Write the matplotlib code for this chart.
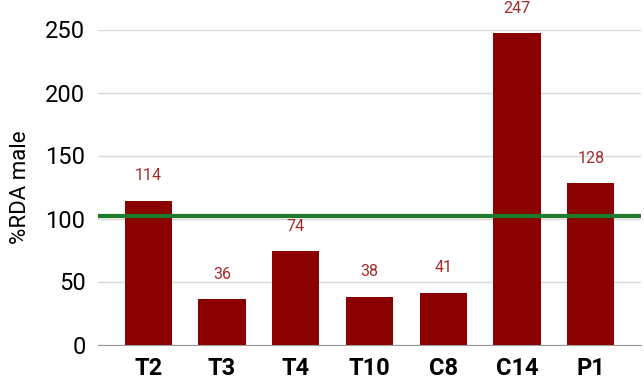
import matplotlib
matplotlib.use('Agg')
import matplotlib.pyplot as plt

plt.rcParams['font.family'] = ['Roboto', 'DejaVu Sans']

labels = ['T2', 'T3', 'T4', 'T10', 'C8', 'C14', 'P1']
values = [114, 36, 74, 38, 41, 247, 128]
rda_line = 102

fig = plt.figure(figsize=(6.44, 3.82), dpi=100)
ax = fig.add_axes([98 / 644, 1 - 344.5 / 382, 543 / 644, 315 / 382])

x = range(len(labels))
bars = ax.bar(x, values, width=0.64, color='#8b0000', zorder=2)
for xi, v in zip(x, values):
    ax.annotate(str(v), (xi, v), xytext=(0, 18), textcoords='offset points',
                ha='center', va='center', color='#a52a2a', fontsize=11.5)

ax.axhline(rda_line, color='#1e7b2e', linewidth=3, zorder=3)

ax.set_ylim(0, 250)
ax.set_xlim(-0.68, 6.68)
ax.set_yticks([0, 50, 100, 150, 200, 250])
ax.set_xticks(list(x))
ax.set_xticklabels(labels, fontweight='bold')
ax.tick_params(axis='both', length=0, labelsize=17)
ax.tick_params(axis='x', pad=9)
ax.tick_params(axis='y', pad=9)
ax.yaxis.grid(True, color='#d9d9d9', linewidth=1, zorder=0)
ax.set_axisbelow(True)
for s in ['top', 'right', 'left']:
    ax.spines[s].set_visible(False)
ax.spines['bottom'].set_color('#999999')
ax.set_ylabel('%RDA male', fontsize=16, labelpad=10)

fig.savefig('out.png', dpi=100)
